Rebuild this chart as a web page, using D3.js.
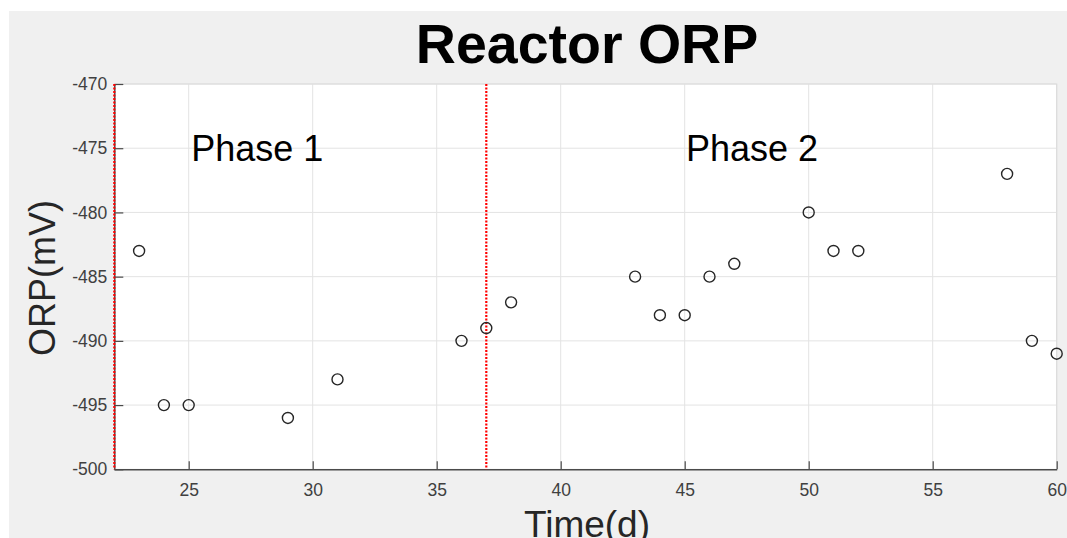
<!DOCTYPE html>
<html><head><meta charset="utf-8">
<script src="https://cdn.jsdelivr.net/npm/d3@7/dist/d3.min.js"></script>
<style>body{margin:0;background:#fff;}svg{display:block;font-family:"Liberation Sans",Arial,sans-serif;}</style>
</head><body>
<script>
const days = [23,24,25,29,31,36,37,38,43,44,45,46,47,50,51,52,58,59,60];
const orp = [-483,-495,-495,-496,-493,-490,-489,-487,-485,-488,-488,-485,-484,-480,-483,-483,-477,-490,-491];
const xTicks = [25,30,35,40,45,50,55,60];
const yTicks = [-500,-495,-490,-485,-480,-475,-470];
const phaseLines = [22,37];
const phaseLabels = [{t:"Phase 1", x:25.1}, {t:"Phase 2", x:45.05}];

const W=1067,H=538;
const svg=d3.select("body").append("svg").attr("width",W).attr("height",H);
svg.append("rect").attr("x",9).attr("y",11).attr("width",W-9).attr("height",H-11).attr("fill","#f0f0f0");
const L=114.3,R=1056.7,T=84,B=469.3;
const x=d3.scaleLinear().domain([22,60]).range([L,R]);
const y=d3.scaleLinear().domain([-500,-470]).range([B,T]);
svg.append("rect").attr("x",L).attr("y",T).attr("width",R-L).attr("height",B-T).attr("fill","#fff");
// grid
svg.append("g").selectAll("line").data(xTicks).join("line")
 .attr("x1",d=>x(d)).attr("x2",d=>x(d)).attr("y1",T).attr("y2",B).attr("stroke","#e3e3e3").attr("stroke-width",1);
svg.append("g").selectAll("line").data(yTicks).join("line")
 .attr("x1",L).attr("x2",R).attr("y1",d=>y(d)).attr("y2",d=>y(d)).attr("stroke","#e3e3e3").attr("stroke-width",1);
// box top/right
svg.append("path").attr("d",`M${L},${T}H${R}V${B}`).attr("fill","none").attr("stroke","#dcdcdc").attr("stroke-width",1.2);
// axes
const xa=d3.axisBottom(x).tickValues(xTicks).tickSize(-8).tickPadding(14).tickSizeOuter(0).tickFormat(d=>String(d));
const gx=svg.append("g").attr("transform",`translate(0,${B})`).call(xa);
const ya=d3.axisLeft(y).tickValues(yTicks).tickSize(-9).tickPadding(16).tickSizeOuter(0).tickFormat(d=>String(d));
const gy=svg.append("g").attr("transform",`translate(${L},0)`).call(ya);
[gx,gy].forEach(g=>{g.select(".domain").attr("stroke","#4a4a4a").attr("stroke-width",1.5);
 g.selectAll(".tick line").attr("stroke","#4a4a4a").attr("stroke-width",1.2);
 g.selectAll("text").attr("fill","#404040").style("font-size","17.5px").style("font-family","Liberation Sans, Arial, sans-serif");});
gx.selectAll("text").attr("dy","0.71em");
gy.selectAll("text").attr("x",-7);
// phase lines
svg.append("g").selectAll("line").data(phaseLines).join("line")
 .attr("x1",d=>x(d)).attr("x2",d=>x(d)).attr("y1",T).attr("y2",B)
 .attr("stroke","#ff0000").attr("stroke-width",2.2).attr("stroke-dasharray","2,1.5");
// phase labels
svg.append("g").selectAll("text").data(phaseLabels).join("text")
 .attr("x",d=>x(d.x)).attr("y",y(-476)).text(d=>d.t)
 .attr("fill","#000").style("font-size","36px");
// points
svg.append("g").selectAll("circle").data(days).join("circle")
 .attr("cx",d=>x(d)).attr("cy",(d,i)=>y(orp[i])).attr("r",5.5)
 .attr("fill","none").attr("stroke","#262626").attr("stroke-width",1.4);
// title & labels
svg.append("text").attr("x",587).attr("y",63).attr("text-anchor","middle").style("font-size","55.5px").style("font-weight","bold").attr("fill","#000").text("Reactor ORP");
svg.append("text").attr("x",587).attr("y",537).attr("text-anchor","middle").style("font-size","37px").attr("fill","#262626").text("Time(d)");
svg.append("text").attr("transform","translate(55,278) rotate(-90)").attr("text-anchor","middle").style("font-size","36px").attr("fill","#262626").text("ORP(mV)");
</script>
</body></html>
